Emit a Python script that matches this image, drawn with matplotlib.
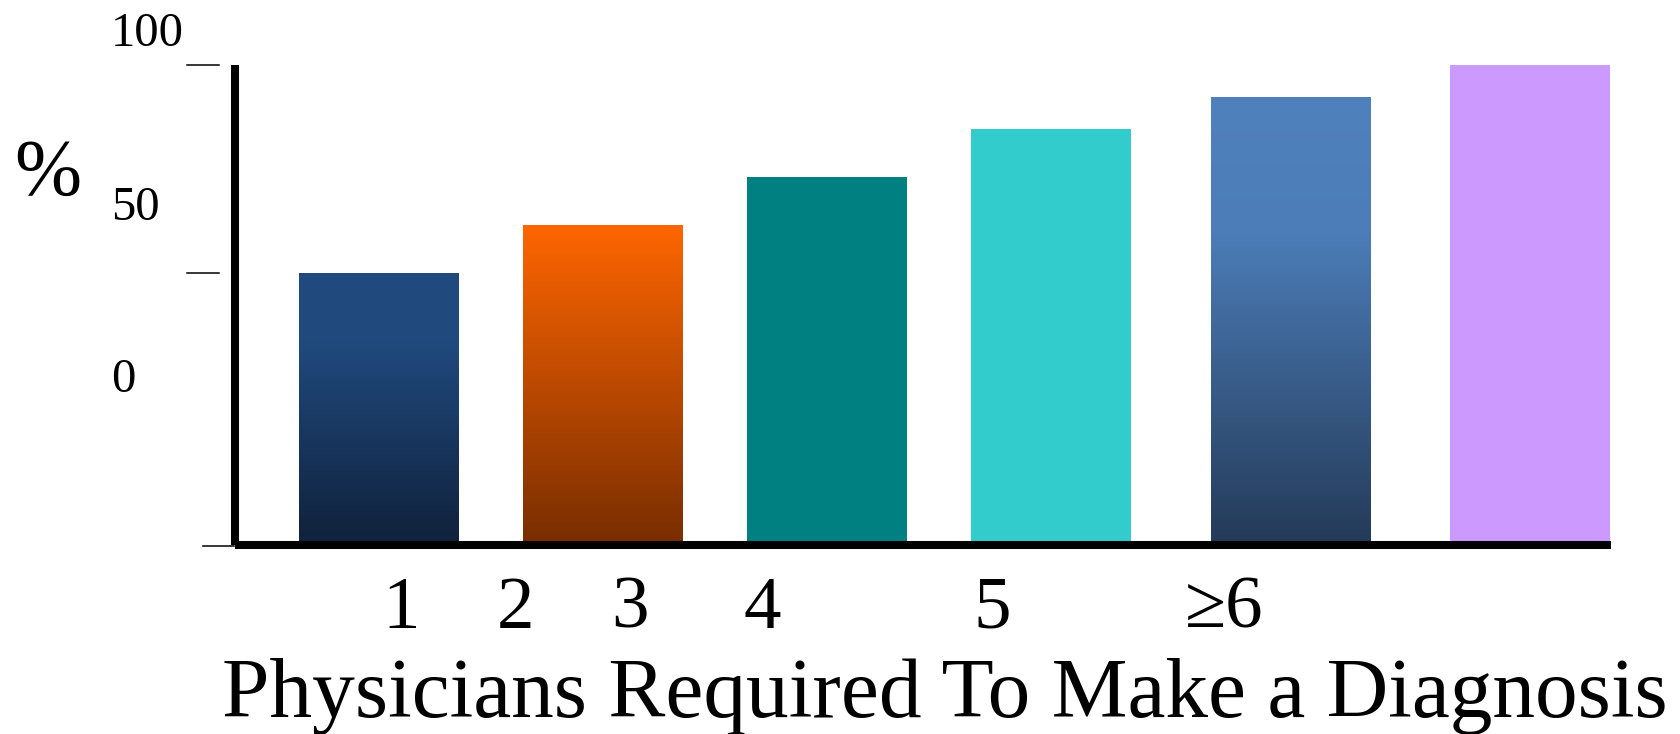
import numpy as np
import matplotlib.pyplot as plt
from matplotlib.colors import LinearSegmentedColormap, to_rgb
from matplotlib.transforms import blended_transform_factory

# Data
categories = ["1", "2", "3", "4", "5", "\u22656"]
percent = [56.7, 66.7, 76.7, 86.7, 93.3, 100.0]
y_labels = ["100", "50", "0"]
x_title = "Physicians Required To Make a Diagnosis"
y_title = "%"

# Layout / style
W, H = 1681, 734
FONT = "Liberation Serif"
bar_x = [0, 1, 2, 3, 4.07, 5.14]
bar_width = 0.714
# colour stops top -> bottom (a plain string = flat colour)
bar_styles = [
    [(0.0, "#214A7F"), (0.25, "#204A7E"), (1.0, "#10213B")],
    [(0.0, "#FF6600"), (1.0, "#782D00")],
    "#008080",
    "#33CCCC",
    [(0.0, "#4F81BD"), (0.3, "#4C7DB8"), (1.0, "#243A58")],
    "#CC99FF",
]
label_x = [0.1206, 0.2042, 0.2871, 0.3830, 0.5501, 0.7188]


def px_to_ax(px, py):
    # pixel of the full image -> axes fraction
    return (px - 235) / 1376, (545 - py) / 480


fig = plt.figure(figsize=(W / 100, H / 100), dpi=100)
ax = fig.add_axes([235 / W, (H - 545) / H, 1376 / W, 480 / H])

bars = ax.bar(bar_x, percent, width=bar_width, linewidth=0, zorder=2)
for bar, style in zip(bars, bar_styles):
    if isinstance(style, str):
        bar.set_facecolor(style)
        continue
    bar.set_facecolor("none")
    cmap = LinearSegmentedColormap.from_list("g", [(p, to_rgb(c)) for p, c in style])
    grad = np.linspace(0, 1, 256).reshape(-1, 1)
    x0, y0 = bar.get_x(), bar.get_y()
    img = ax.imshow(grad, cmap=cmap, aspect="auto", interpolation="bilinear",
                    extent=(x0, x0 + bar.get_width(), y0, y0 + bar.get_height()),
                    origin="upper", zorder=2)
    img.set_clip_path(bar)

ax.set_xlim(-0.643, 5.5)
ax.set_ylim(0, 100)

for side in ["top", "right"]:
    ax.spines[side].set_visible(False)
for side in ["left", "bottom"]:
    ax.spines[side].set_linewidth(5.8)
    ax.spines[side].set_color("black")
    ax.spines[side].set_capstyle("butt")
    ax.spines[side].set_zorder(3)
ax.set_xticks([])
ax.set_yticks([])

# loose tick dashes drawn as on the slide
trans = blended_transform_factory(ax.transAxes, ax.transData)
for y in [100, percent[0]]:
    ax.plot([px_to_ax(187, 0)[0], px_to_ax(219, 0)[0]], [y, y], color="black",
            lw=1.1, transform=trans, clip_on=False)
ax.plot([px_to_ax(203, 0)[0], px_to_ax(234, 0)[0]], [-0.2, -0.2], color="black",
        lw=1.1, transform=trans, clip_on=False)

# y labels, placed as on the slide
for lab, base in zip(y_labels, [46, 220, 392]):
    x, y = px_to_ax(111, base)
    ax.text(x, y, lab, transform=ax.transAxes, fontsize=35, family=FONT,
            ha="left", va="baseline")

x, y = px_to_ax(14, 195)
ax.text(x, y, y_title, transform=ax.transAxes, fontsize=58, family=FONT,
        ha="left", va="baseline")

# category labels
for lab, lx in zip(categories, label_x):
    ax.text(lx, px_to_ax(0, 627.5)[1], lab, transform=ax.transAxes, fontsize=54,
            family=FONT, ha="center", va="baseline")

fig.text(222 / W, (H - 717) / H, x_title, fontsize=61.5, family=FONT,
         ha="left", va="baseline")

fig.savefig("out.png", dpi=100)
